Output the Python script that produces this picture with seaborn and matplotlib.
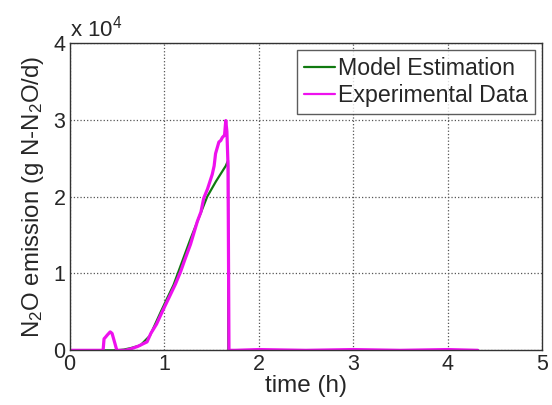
import matplotlib
matplotlib.use("Agg")
import matplotlib.pyplot as plt
import seaborn as sns
import pandas as pd
from matplotlib.ticker import FuncFormatter

# Experimental data (time in h, emission in g N-N2O/d)
exp_time = [0, 0.355, 0.365, 0.38, 0.40, 0.43, 0.45, 0.48, 0.50, 0.52, 0.59, 0.65,
            0.72, 0.82, 0.86, 0.92, 0.98, 1.05, 1.12, 1.177, 1.22, 1.28, 1.353,
            1.39, 1.42, 1.46, 1.51, 1.53, 1.545, 1.58, 1.60, 1.617, 1.64, 1.653,
            1.665, 1.677, 1.687, 1.75, 2.0, 2.5, 3.0, 3.5, 4.0, 4.32]
exp_vals = [0, 0, 1500, 1700, 2000, 2400, 2200, 900, 0, 0, 0, 200,
            500, 1100, 2200, 3400, 5000, 6800, 8600, 10300, 11800, 13800, 16800,
            18000, 19800, 21000, 22900, 24000, 25600, 27100, 27300, 27700, 28000, 29900,
            28500, 24000, 0, 0, 100, 0, 100, 0, 100, 0]

# Model estimation
mod_time = [0, 0.5, 0.575, 0.65, 0.75, 0.85, 0.965, 1.03, 1.10, 1.19, 1.283,
            1.37, 1.457, 1.55, 1.653, 1.677, 1.68, 2.0, 3.0, 4.32]
mod_vals = [0, 0, 100, 300, 650, 1900, 5000, 6700, 8500, 11500, 14600,
            17300, 20000, 22000, 24000, 24700, 0, 0, 0, 0]

x_ticks = [0, 1, 2, 3, 4, 5]
y_ticks = [0, 10000, 20000, 30000, 40000]

df = pd.concat([
    pd.DataFrame({"time": mod_time, "val": mod_vals, "series": "Model Estimation"}),
    pd.DataFrame({"time": exp_time, "val": exp_vals, "series": "Experimental Data"}),
])

sns.set_style("white")
plt.rcParams['font.family'] = ['Liberation Sans', 'DejaVu Sans']
plt.rcParams['mathtext.fontset'] = 'custom'
plt.rcParams['mathtext.rm'] = 'Liberation Sans'
plt.rcParams['mathtext.it'] = 'Liberation Sans:italic'
plt.rcParams['mathtext.bf'] = 'Liberation Sans:bold'

fig = plt.figure(figsize=(5.52, 4.05), dpi=100)
ax = fig.add_axes([0.126, 0.135, 0.856, 0.759])

sns.lineplot(data=df, x="time", y="val", hue="series", sort=False, estimator=None,
             palette={"Model Estimation": "#107a10", "Experimental Data": "#ee11ee"},
             ax=ax, legend=True)
for line, lw in zip(ax.get_lines(), [1.6, 2.3]):
    line.set_linewidth(lw)

ax.set_xlim(0, 5)
ax.set_ylim(0, 40000)
ax.set_xticks(x_ticks)
ax.set_yticks(y_ticks)
ax.yaxis.set_major_formatter(FuncFormatter(lambda v, p: f"{v/1e4:g}"))
ax.tick_params(direction='in', labelsize=15.5, length=4, color='#333333', pad=3)
ax.grid(True, linestyle=':', color='#555555', linewidth=0.9)
for s in ax.spines.values():
    s.set_color('#333333')
    s.set_linewidth(1.0)

ax.set_xlabel("time (h)", fontsize=17.5, labelpad=0)
ax.set_ylabel("N$_2$O emission (g N-N$_2$O/d)", fontsize=17.3, labelpad=5)
ax.text(0.0, 1.005, "x 10$^4$", transform=ax.transAxes, fontsize=16, ha='left', va='bottom')

handles, labels = ax.get_legend_handles_labels()
leg = ax.legend(handles, labels, loc='upper right', fontsize=16.7, frameon=True,
                fancybox=False, edgecolor='#333333', handlelength=1.35,
                handletextpad=0.15, borderpad=0.3, labelspacing=0.2,
                borderaxespad=0.3)
leg.get_frame().set_linewidth(1.0)
for lh in leg.get_lines():
    lh.set_linewidth(1.6)

fig.savefig("out.png", dpi=100)
